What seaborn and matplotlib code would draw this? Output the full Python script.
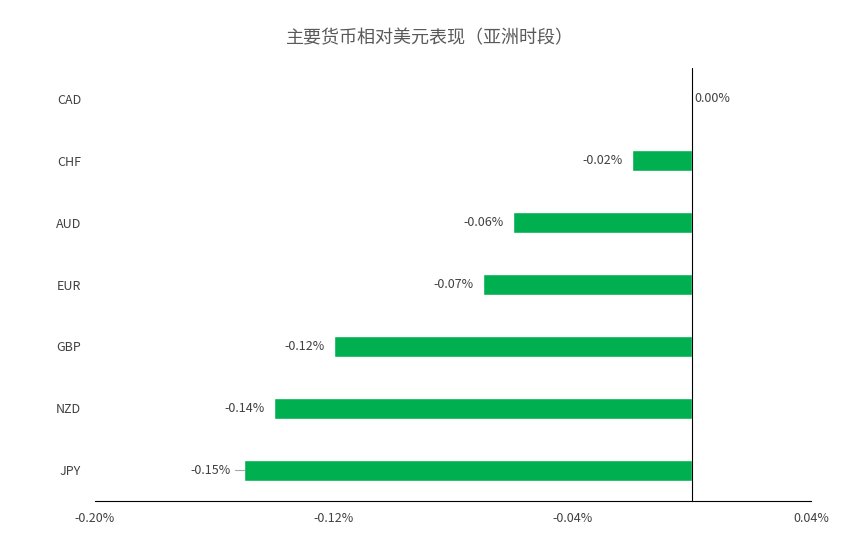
import matplotlib
matplotlib.use("Agg")
import matplotlib.pyplot as plt
import seaborn as sns
import pandas as pd

currencies = ["CAD", "CHF", "AUD", "EUR", "GBP", "NZD", "JPY"]
values = [0.00, -0.02, -0.06, -0.07, -0.12, -0.14, -0.15]
labels = ["0.00%", "-0.02%", "-0.06%", "-0.07%", "-0.12%", "-0.14%", "-0.15%"]
ticks = [-0.20, -0.12, -0.04, 0.04]
tick_labels = ["-0.20%", "-0.12%", "-0.04%", "0.04%"]

sns.set_style("white")
plt.rcParams["font.family"] = ["Noto Sans CJK SC", "DejaVu Sans"]

df = pd.DataFrame({"currency": currencies, "value": values})

fig = plt.figure(figsize=(8.6, 5.52), dpi=100)
ax = fig.add_axes([95 / 860, 51 / 552, 716 / 860, 433 / 552])
sns.barplot(data=df, x="value", y="currency", color="#00b050", width=0.35,
            saturation=1, ax=ax)

ax.set_xlim(-0.20, 0.04)
ax.set_xticks(ticks)
ax.set_xticklabels(tick_labels, fontsize=9, color="#404040")
ax.tick_params(axis="y", labelsize=9, labelcolor="#404040", length=0, pad=10)
ax.tick_params(axis="x", length=0, pad=8)
ax.set_xlabel("")
ax.set_ylabel("")
for s in ["top", "right", "left"]:
    ax.spines[s].set_visible(False)
ax.spines["bottom"].set_color("#000000")
ax.spines["bottom"].set_linewidth(0.8)
ax.axvline(0, color="#000000", lw=0.8)

for i, (v, lab) in enumerate(zip(values, labels)):
    if v == 0:
        ax.text(0.001, i, lab, va="center", ha="left", fontsize=9, color="#404040")
    elif lab == "-0.15%":
        ax.plot([v - 0.003, v], [i, i], color="#a6a6a6", lw=0.8)
        ax.text(v - 0.0045, i, lab, va="center", ha="right", fontsize=9, color="#404040")
    else:
        ax.text(v - 0.003, i, lab, va="center", ha="right", fontsize=9, color="#404040")

fig.text(0.5, 1 - 38 / 552, "主要货币相对美元表现（亚洲时段）", ha="center", va="center",
         fontsize=13, color="#595959")

fig.savefig("out.png", dpi=100)
